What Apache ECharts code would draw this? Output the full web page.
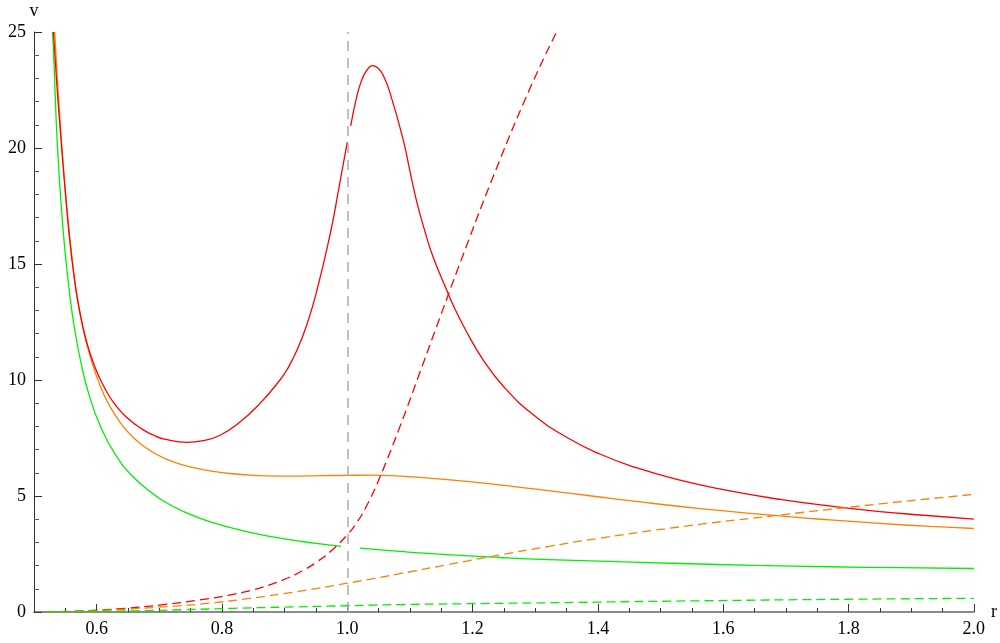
<!DOCTYPE html>
<html>
<head>
<meta charset="utf-8">
<script src="https://cdn.jsdelivr.net/npm/echarts@6/dist/echarts.min.js"></script>
<style>html,body{margin:0;padding:0;background:#fff}#c{width:1000px;height:643px}</style>
</head>
<body>
<div id="c"></div>
<script>
// tick labels
var xTicks = [0.6, 0.8, 1.0, 1.2, 1.4, 1.6, 1.8, 2.0];
var yTicks = [0, 5, 10, 15, 20, 25];
// reference vertical line position
var markR = 1.0;

// solid curves [r, v]
var redSolid = [
  [0.531, 25.0], [0.536, 22.9], [0.5415, 20.92], [0.5506, 17.9], [0.557, 16.04],
  [0.5638, 14.51], [0.5705, 13.3], [0.5798, 12.09], [0.5878, 11.29], [0.597, 10.57],
  [0.6064, 9.99], [0.62, 9.31], [0.6329, 8.82], [0.646, 8.44], [0.6596, 8.13],
  [0.675, 7.84], [0.6915, 7.61], [0.71, 7.44], [0.7437, 7.31], [0.77, 7.385],
  [0.797, 7.62], [0.8288, 8.19], [0.86, 8.97], [0.8926, 10.0], [0.905, 10.5],
  [0.92, 11.3], [0.935, 12.35], [0.95, 13.7], [0.9724, 16.25], [0.986, 18.18],
  [1.0, 20.25], null, [1.0054, 20.95], [1.015, 22.2], [1.022, 22.85], [1.03, 23.3],
  [1.0405, 23.55], [1.05, 23.42], [1.0575, 23.12], [1.068, 22.4], [1.0894, 20.34],
  [1.1, 19.0], [1.1107, 17.7], [1.124, 16.4], [1.137, 15.3], [1.1586, 13.88],
  [1.17, 13.17], [1.188, 12.2], [1.217, 10.86], [1.25, 9.7], [1.297, 8.5],
  [1.35, 7.53], [1.403, 6.81], [1.46, 6.23], [1.531, 5.68], [1.6, 5.27],
  [1.6906, 4.85], [1.77, 4.57], [1.85, 4.33], [1.92, 4.17], [2.0, 4.0]
];
var orangeSolid = [
  [0.533, 25.0], [0.537, 23.12], [0.5415, 21.23], [0.546, 19.52], [0.550, 18.16],
  [0.556, 16.42], [0.562, 14.95], [0.567, 13.9], [0.578, 12.25], [0.59, 10.99],
  [0.605, 9.79], [0.62, 8.92], [0.64, 8.08], [0.66, 7.48], [0.685, 6.96],
  [0.71, 6.6], [0.74, 6.32], [0.765, 6.16], [0.8, 6.01], [0.84, 5.91],
  [0.8714, 5.87], [0.92, 5.86], [0.96, 5.875], [1.0, 5.89], [1.04, 5.9],
  [1.084, 5.855], [1.13, 5.77], [1.19, 5.63], [1.26, 5.43], [1.3235, 5.22],
  [1.39, 5.0], [1.4565, 4.78], [1.563, 4.46], [1.6906, 4.14], [1.77, 3.97],
  [1.85, 3.82], [1.93, 3.69], [2.0, 3.6]
];
var greenSolid = [
  [0.5295, 25.0], [0.532, 23.6], [0.5357, 21.0], [0.539, 19.35], [0.5426, 17.83],
  [0.549, 15.69], [0.5575, 13.57], [0.565, 12.17], [0.576, 10.61], [0.5878, 9.37],
  [0.605, 8.07], [0.63, 6.78], [0.6585, 5.82], [0.6915, 5.06], [0.71, 4.73],
  [0.738, 4.34], [0.78, 3.9], [0.845, 3.43], [0.9, 3.15], [0.95, 2.96],
  [0.99, 2.83], null, [1.02, 2.75], [1.084, 2.61], [1.16, 2.47], [1.2437, 2.35],
  [1.32, 2.26], [1.403, 2.19], [1.531, 2.09], [1.65, 2.01], [1.77, 1.95],
  [1.88, 1.91], [2.0, 1.875]
];
// dashed curves [r, v]
var redDashed = [
  [0.52, 0.0], [0.56, 0.03], [0.6, 0.08], [0.65, 0.17], [0.701, 0.30],
  [0.765, 0.52], [0.81, 0.72], [0.845, 0.923], [0.875, 1.157], [0.903, 1.443],
  [0.93, 1.80], [0.951, 2.15], [0.975, 2.65], [1.0, 3.33], [1.016, 3.89],
  [1.031, 4.58], [1.05, 5.68], [1.084, 7.99], [1.116, 10.33], [1.14, 12.11],
  [1.185, 15.4], [1.2384, 19.14], [1.2916, 22.57], [1.334, 25.0]
];
var orangeDashed = [
  [0.52, 0.0], [0.6, 0.06], [0.712, 0.23], [0.78, 0.38], [0.845, 0.59],
  [0.92, 0.88], [1.0, 1.24], [1.084, 1.65], [1.16, 2.04], [1.2437, 2.46],
  [1.32, 2.82], [1.403, 3.18], [1.531, 3.67], [1.6906, 4.18], [1.85, 4.66],
  [2.0, 5.07]
];
var greenDashed = [
  [0.52, 0.0], [0.6, 0.03], [0.66, 0.05], [0.74, 0.1], [0.818, 0.16],
  [0.9, 0.21], [1.0, 0.27], [1.084, 0.32], [1.2, 0.36], [1.3235, 0.40],
  [1.552, 0.48], [1.8, 0.55], [2.0, 0.59]
];

var FONT = "'Liberation Serif', 'DejaVu Serif', serif";
var chart = echarts.init(document.getElementById('c'), null, {renderer: 'canvas'});

function line(data, color, dashed) {
  return {
    type: 'line', data: data, showSymbol: false, symbol: 'none',
    smooth: 0.5, connectNulls: false, animation: false, silent: true,
    lineStyle: {color: color, width: 1.3, type: dashed ? [9, 5] : 'solid'}
  };
}

var series = [
  line(greenSolid, '#00f000', false),
  line(orangeSolid, '#ff8000', false),
  line(redSolid, '#ff0000', false),
  line(redDashed, '#ff0000', true),
  line(orangeDashed, '#ff8000', true),
  line(greenDashed, '#00f000', true)
];
series[0].markLine = {
  silent: true, symbol: 'none', label: {show: false}, animation: false,
  lineStyle: {color: '#aaaaaa', width: 1.5, type: [10, 7]},
  data: [{xAxis: markR}]
};

chart.setOption({
  backgroundColor: '#ffffff',
  animation: false,
  grid: {left: 34, right: 26, top: 32, bottom: 31},
  xAxis: [{
    type: 'value', min: 0.5, max: 2.0, position: 'bottom',
    name: 'r', nameLocation: 'end', nameGap: 17,
    nameTextStyle: {fontFamily: FONT, fontSize: 18, color: '#000'},
    axisLine: {show: true, onZero: true, lineStyle: {color: '#666', width: 1.6}},
    axisTick: {show: true, inside: true, length: 8, customValues: xTicks, lineStyle: {color: '#333'}},
    axisLabel: {show: true, customValues: xTicks, margin: 8,
      fontFamily: FONT, fontSize: 18, color: '#000',
      formatter: function (v) { return v.toFixed(1); }},
    splitLine: {show: false}
  }, {
    type: 'value', min: 0.5, max: 2.0, interval: 0.05, position: 'bottom',
    axisLine: {show: false},
    axisTick: {show: true, inside: true, length: 4, lineStyle: {color: '#333'}},
    axisLabel: {show: false},
    splitLine: {show: false}
  }],
  yAxis: {
    type: 'value', min: 0, max: 25, interval: 5,
    name: 'v', nameLocation: 'end', nameGap: 12,
    nameTextStyle: {fontFamily: FONT, fontSize: 18, color: '#000', align: 'center'},
    axisLine: {show: true, lineStyle: {color: '#333', width: 1}},
    axisTick: {show: true, inside: true, length: 8, lineStyle: {color: '#333'}},
    minorTick: {show: true, splitNumber: 5, length: 5, lineStyle: {color: '#555'}},
    axisLabel: {show: true, customValues: yTicks, margin: 8,
      fontFamily: FONT, fontSize: 18, color: '#000'},
    splitLine: {show: false}
  },
  series: series
});
</script>
</body>
</html>
